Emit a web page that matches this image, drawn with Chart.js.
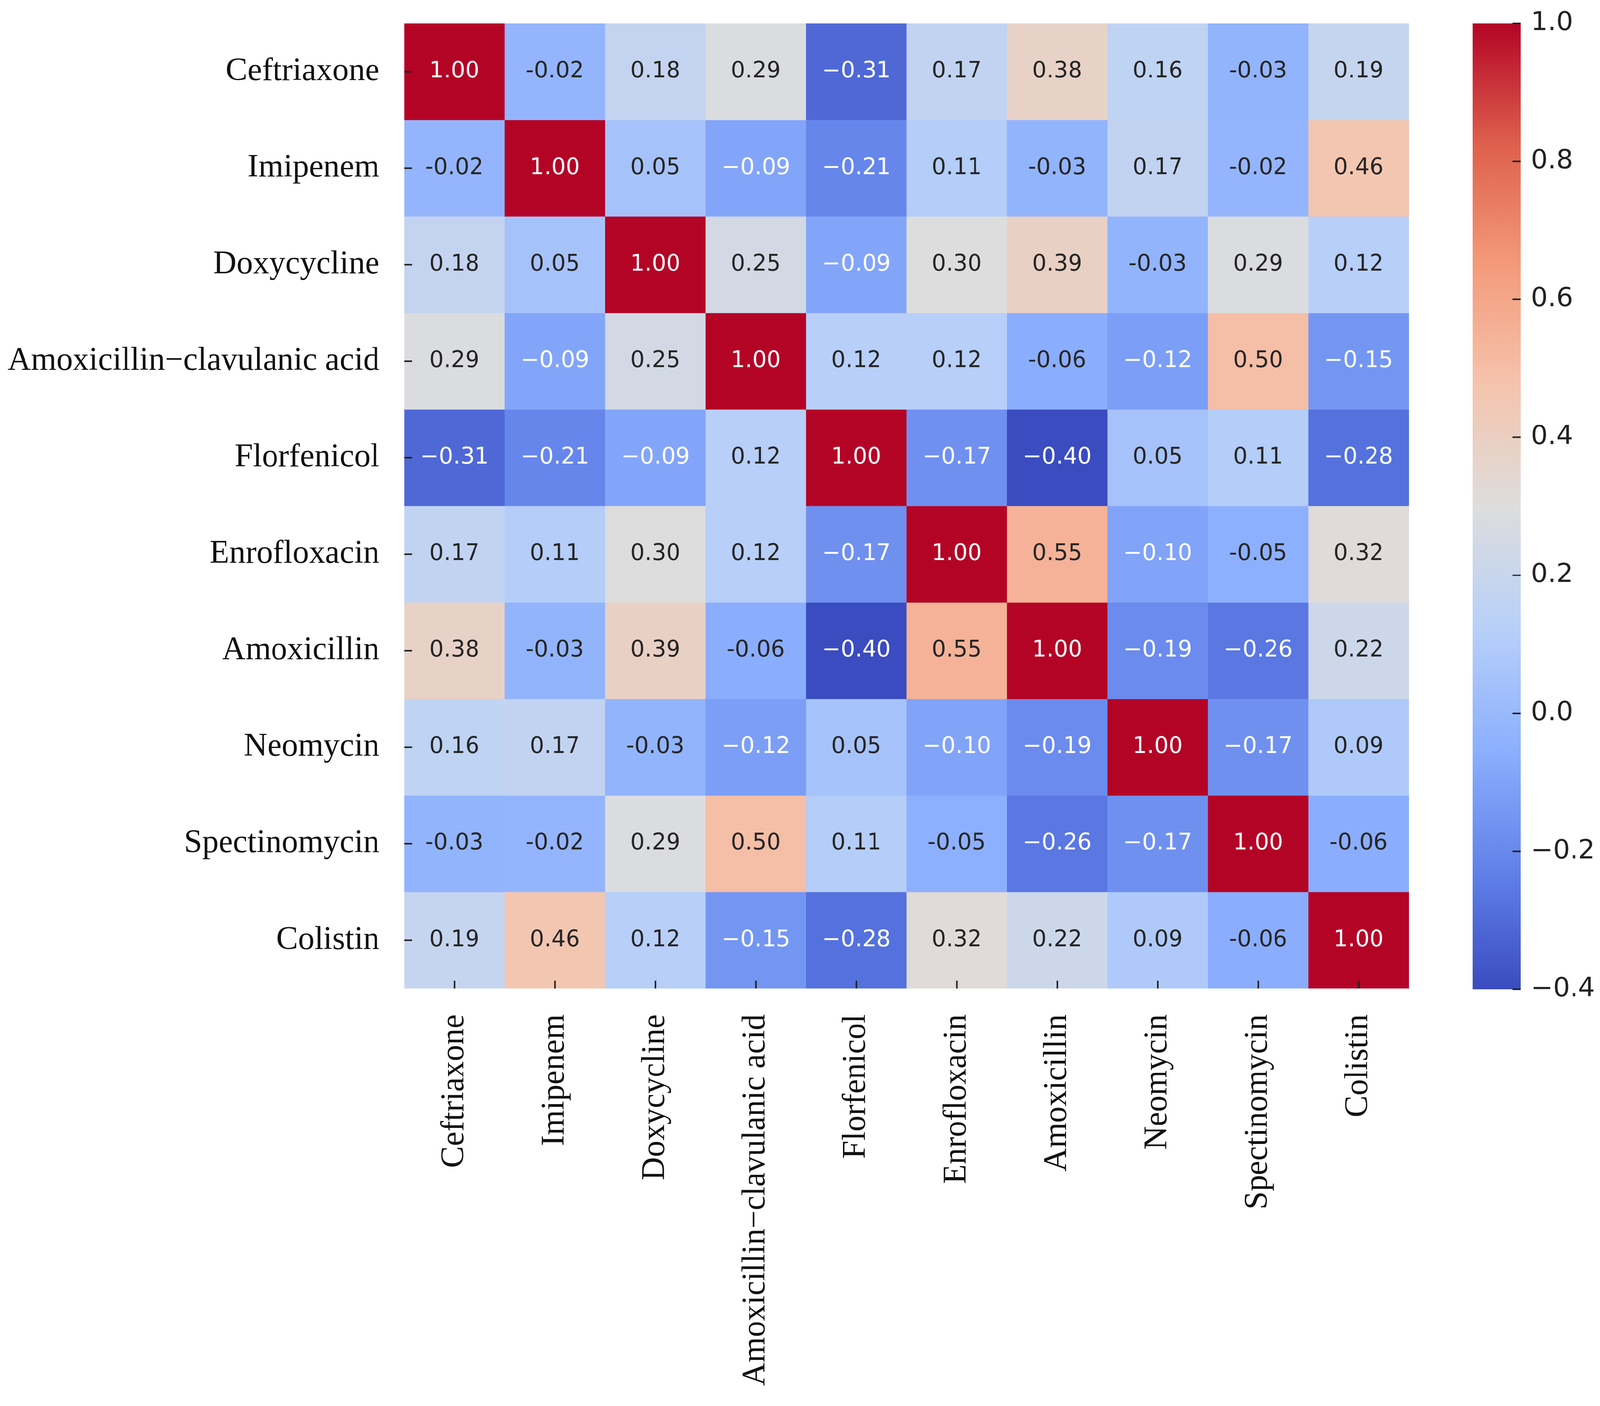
<!DOCTYPE html>
<html lang="en">
<head>
    <meta charset="UTF-8">
    <title>Antibiotic resistance correlation heatmap</title>
    <script src="https://cdn.jsdelivr.net/npm/chart.js"></script>
    <style>
        html, body { margin: 0; padding: 0; background: #ffffff; overflow: hidden; }
        #wrap { position: relative; width: 4128px; height: 3600px; transform-origin: 0 0; }
        #heat { position: absolute; left: 0; top: 0; }
        #cbar { position: absolute; left: 3700px; top: 0; }
    </style>
</head>
<body>
<div id="wrap">
    <canvas id="heat" width="3700" height="3600"></canvas>
    <canvas id="cbar" width="428" height="3600"></canvas>
</div>

<script>
// drug names (same order for rows and columns)
const drugs = ['Ceftriaxone', 'Imipenem', 'Doxycycline', 'Amoxicillin\u2212clavulanic acid', 'Florfenicol',
    'Enrofloxacin', 'Amoxicillin', 'Neomycin', 'Spectinomycin', 'Colistin'];

// correlation rows
const ceftriaxone   = [1.00, -0.02, 0.18, 0.29, -0.31, 0.17, 0.38, 0.16, -0.03, 0.19];
const imipenem      = [-0.02, 1.00, 0.05, -0.09, -0.21, 0.11, -0.03, 0.17, -0.02, 0.46];
const doxycycline   = [0.18, 0.05, 1.00, 0.25, -0.09, 0.30, 0.39, -0.03, 0.29, 0.12];
const amoxClav      = [0.29, -0.09, 0.25, 1.00, 0.12, 0.12, -0.06, -0.12, 0.50, -0.15];
const florfenicol   = [-0.31, -0.21, -0.09, 0.12, 1.00, -0.17, -0.40, 0.05, 0.11, -0.28];
const enrofloxacin  = [0.17, 0.11, 0.30, 0.12, -0.17, 1.00, 0.55, -0.10, -0.05, 0.32];
const amoxicillin   = [0.38, -0.03, 0.39, -0.06, -0.40, 0.55, 1.00, -0.19, -0.26, 0.22];
const neomycin      = [0.16, 0.17, -0.03, -0.12, 0.05, -0.10, -0.19, 1.00, -0.17, 0.09];
const spectinomycin = [-0.03, -0.02, 0.29, 0.50, 0.11, -0.05, -0.26, -0.17, 1.00, -0.06];
const colistin      = [0.19, 0.46, 0.12, -0.15, -0.28, 0.32, 0.22, 0.09, -0.06, 1.00];

const rows = [ceftriaxone, imipenem, doxycycline, amoxClav, florfenicol,
    enrofloxacin, amoxicillin, neomycin, spectinomycin, colistin];

// colour scale limits and colorbar ticks
const vmin = -0.40;
const vmax = 1.00;
const cbarTicks = [-0.4, -0.2, 0.0, 0.2, 0.4, 0.6, 0.8, 1.0];

// fit the 4128px wide drawing into whatever viewport we really get
const fit = window.innerWidth / 4128;
if (Math.abs(fit - 1) > 0.001) {
    document.getElementById('wrap').style.transform = `scale(${fit})`;
}

// coolwarm colormap, sampled every 1/8
const coolwarmStops = [
    [58, 76, 192], [98, 130, 234], [141, 176, 254], [184, 208, 249], [221, 221, 221],
    [245, 196, 173], [244, 154, 123], [222, 96, 77], [180, 4, 38]
];

function coolwarmRGB(t) {
    t = Math.max(0, Math.min(1, t));
    const p = t * (coolwarmStops.length - 1);
    const i = Math.min(coolwarmStops.length - 2, Math.floor(p));
    const f = p - i;
    const a = coolwarmStops[i], b = coolwarmStops[i + 1];
    return [0, 1, 2].map(k => Math.round(a[k] + (b[k] - a[k]) * f));
}
function colorFor(v) {
    const c = coolwarmRGB((v - vmin) / (vmax - vmin));
    return `rgb(${c[0]},${c[1]},${c[2]})`;
}
// seaborn style: light text on dark cells
function textColorFor(v) {
    const c = coolwarmRGB((v - vmin) / (vmax - vmin)).map(x => {
        x = x / 255;
        return x <= 0.03928 ? x / 12.92 : Math.pow((x + 0.055) / 1.055, 2.4);
    });
    const lum = 0.2126 * c[0] + 0.7152 * c[1] + 0.0722 * c[2];
    return lum > 0.408 ? 'dark' : 'light';
}

const serif = "'Liberation Serif', 'DejaVu Serif', serif";
const sans = "'DejaVu Sans', sans-serif";
const tickColor = '#222222';
const pixelRatio = Math.max(1, window.devicePixelRatio * fit);

// draws the numbers inside the cells
const annotatePlugin = {
    id: 'annotate',
    afterDatasetsDraw(chart) {
        const ctx = chart.ctx;
        ctx.save();
        ctx.font = `58px ${sans}`;
        ctx.textAlign = 'center';
        ctx.textBaseline = 'middle';
        chart.data.datasets.forEach((ds, r) => {
            const meta = chart.getDatasetMeta(r);
            meta.data.forEach((bar, c) => {
                const v = rows[r][c];
                const mode = textColorFor(v);
                let txt = v.toFixed(2);
                if (v < 0) txt = (mode === 'light' ? '\u2212' : '-') + Math.abs(v).toFixed(2);
                ctx.fillStyle = mode === 'light' ? '#ffffff' : '#262626';
                ctx.fillText(txt, bar.x, (bar.y + bar.base) / 2);
            });
        });
        ctx.restore();
    }
};

// short tick marks drawn inward over the cells
const heatTicksPlugin = {
    id: 'heatTicks',
    afterDatasetsDraw(chart) {
        const ctx = chart.ctx;
        const area = chart.chartArea;
        const xs = chart.scales.x, ys = chart.scales.y;
        ctx.save();
        ctx.strokeStyle = tickColor;
        ctx.lineWidth = 4;
        drugs.forEach((d, i) => {
            const y = ys.getPixelForValue(i + 0.5);
            ctx.beginPath();
            ctx.moveTo(area.left, y);
            ctx.lineTo(area.left + 20, y);
            ctx.stroke();
            const x = xs.getPixelForTick(i);
            ctx.beginPath();
            ctx.moveTo(x, area.bottom);
            ctx.lineTo(x, area.bottom - 20);
            ctx.stroke();
        });
        ctx.restore();
    }
};

// keep the plot box where it is, whatever the label overhang
function noOverhang(scale) {
    scale.paddingTop = 0;
    scale.paddingBottom = 0;
    scale.paddingLeft = 0;
    scale.paddingRight = 0;
}

const heatDatasets = rows.map((row, r) => ({
    label: drugs[r],
    data: row.map(() => [r, r + 1]),
    backgroundColor: row.map(v => colorFor(v)),
    borderWidth: 0,
    barPercentage: 1.0,
    categoryPercentage: 1.0,
    grouped: false
}));

new Chart(document.getElementById('heat'), {
    type: 'bar',
    data: { labels: drugs, datasets: heatDatasets },
    options: {
        responsive: false,
        devicePixelRatio: pixelRatio,
        animation: false,
        layout: { padding: { top: 60, right: 65, left: 0, bottom: 0 } },
        plugins: { legend: { display: false }, tooltip: { enabled: false } },
        scales: {
            x: {
                type: 'category',
                position: 'bottom',
                grid: { display: false, drawTicks: false },
                border: { display: false },
                ticks: {
                    autoSkip: false,
                    maxRotation: 90,
                    minRotation: 90,
                    padding: 66,
                    color: '#111111',
                    font: { family: serif, size: 84 }
                },
                afterFit: scale => { scale.height = 1049; noOverhang(scale); }
            },
            y: {
                type: 'linear',
                min: 0,
                max: rows.length,
                reverse: true,
                grid: { display: false, drawTicks: false },
                border: { display: false },
                afterBuildTicks: scale => {
                    scale.ticks = drugs.map((d, i) => ({ value: i + 0.5 }));
                },
                ticks: {
                    padding: 64,
                    color: '#111111',
                    font: { family: serif, size: 84 },
                    callback: (value, index) => drugs[index]
                },
                afterFit: scale => { scale.width = 1043; noOverhang(scale); }
            }
        }
    },
    plugins: [annotatePlugin, heatTicksPlugin]
});

// colorbar
const cbarTicksPlugin = {
    id: 'cbarTicks',
    afterDatasetsDraw(chart) {
        const ctx = chart.ctx;
        const area = chart.chartArea;
        const ys = chart.scales.y;
        ctx.save();
        ctx.strokeStyle = tickColor;
        ctx.lineWidth = 4;
        cbarTicks.forEach(t => {
            const y = ys.getPixelForValue(t);
            ctx.beginPath();
            ctx.moveTo(area.right, y);
            ctx.lineTo(area.right - 21, y);
            ctx.stroke();
        });
        ctx.restore();
    }
};

new Chart(document.getElementById('cbar'), {
    type: 'bar',
    data: {
        labels: ['scale'],
        datasets: [{
            data: [[vmin, vmax]],
            borderWidth: 0,
            barPercentage: 1.0,
            categoryPercentage: 1.0,
            backgroundColor: context => {
                const chart = context.chart;
                const ys = chart.scales.y;
                if (!chart.chartArea || !ys) return colorFor(0);
                const top = ys.getPixelForValue(vmax);
                const bottom = ys.getPixelForValue(vmin);
                const g = chart.ctx.createLinearGradient(0, bottom, 0, top);
                coolwarmStops.forEach((c, i) => {
                    g.addColorStop(i / (coolwarmStops.length - 1), `rgb(${c[0]},${c[1]},${c[2]})`);
                });
                return g;
            }
        }]
    },
    options: {
        responsive: false,
        devicePixelRatio: pixelRatio,
        animation: false,
        layout: { padding: { top: 60, left: 99, right: 0, bottom: 1047 } },
        plugins: { legend: { display: false }, tooltip: { enabled: false } },
        scales: {
            x: { display: false },
            y: {
                type: 'linear',
                position: 'right',
                min: vmin,
                max: vmax,
                grid: { display: false, drawTicks: false },
                border: { display: false },
                afterBuildTicks: scale => {
                    scale.ticks = cbarTicks.map(v => ({ value: v }));
                },
                ticks: {
                    padding: 27,
                    color: tickColor,
                    font: { family: sans, size: 68 },
                    callback: value => {
                        const v = Math.abs(value) < 1e-9 ? 0 : value;
                        return v < 0 ? '\u2212' + Math.abs(v).toFixed(1) : v.toFixed(1);
                    }
                },
                afterFit: scale => { scale.width = 205; noOverhang(scale); }
            }
        }
    },
    plugins: [cbarTicksPlugin]
});
</script>
</body>
</html>
